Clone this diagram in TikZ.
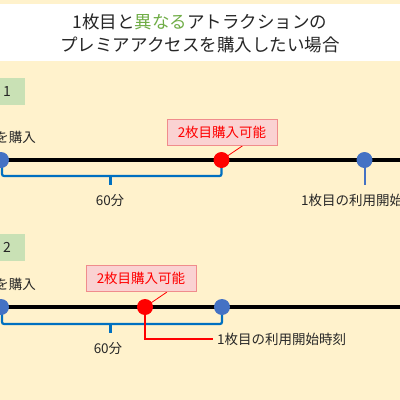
\documentclass[tikz,border=0pt]{standalone}
\usepackage{fontspec}
\setmainfont{Noto Sans CJK JP}
\definecolor{bgc}{HTML}{FFF2CC}
\definecolor{tgreen}{HTML}{70AD47}
\definecolor{casec}{HTML}{C9E1B5}
\definecolor{dotblue}{HTML}{4472C4}
\definecolor{brblue}{HTML}{0070C0}
\definecolor{pinkf}{HTML}{FAD2D2}
\definecolor{pinkd}{HTML}{F08C8C}
\definecolor{txt}{HTML}{262626}
\pgfdeclarelayer{back}
\pgfdeclarelayer{lines}
\pgfsetlayers{back,lines,main}
\tikzset{
  ttl/.style={font=\fontsize{17.5}{20}\selectfont, text=txt, inner sep=0},
  lbl/.style={font=\fontsize{13.5}{16}\selectfont, text=txt, inner sep=0},
  casebox/.style={fill=casec, draw=none},
  bdot/.style={circle, fill=dotblue, minimum size=16, inner sep=0},
  rdot/.style={circle, fill=red, minimum size=16, inner sep=0},
  timeline/.style={line width=3.5, black},
  bracket/.style={line width=2.2, brblue},
  bline/.style={line width=2, dotblue},
  rline/.style={line width=2, red},
  callbox/.style={fill=pinkf, draw=pinkd, line width=0.8, minimum width=110, minimum height=26, inner sep=0, text=red, font=\fontsize{13.5}{16}\selectfont},
  pointer/.style={red, line width=0.8}
}
\begin{document}
\begin{tikzpicture}[x=1pt,y=-1pt]
\useasboundingbox (0,0) rectangle (400,400);
\clip (0,0) rectangle (400,400);
\begin{pgfonlayer}{back}
\fill[bgc] (0,0) rectangle (400,400);
\fill[white] (0,4) rectangle (400,61);
\fill[casec] (-5,78) rectangle (25,105);
\fill[casec] (-5,234) rectangle (25,261);
\end{pgfonlayer}
\node[ttl] (t1) at (200,22) {1枚目と\textcolor{tgreen}{異なる}アトラクションの};
\node[ttl] (t2) at (200,45) {プレミアアクセスを購入したい場合};
% case 1
\node[lbl, font=\fontsize{14}{16}\selectfont] (k1) at (7,91.5) {1};
\node[lbl, anchor=east] (p1) at (36,137) {を購入};
\coordinate (l1s) at (0,160);
\coordinate (l1e) at (400,160);
\node[bdot] (a1) at (1,160) {};
\node[rdot] (r1) at (221.5,160) {};
\node[bdot] (b1) at (364.5,160) {};
\node[callbox] (c1) at (222,132) {2枚目購入可能};
\coordinate (tk1) at (110.5,176);
\coordinate (tk1e) at (110.5,185);
\coordinate (v1e) at (364.5,185);
\coordinate (pt1) at (243,145.5);
\node[lbl] (m1) at (110,201) {60分};
\node[lbl, anchor=west] (u1) at (301,200) {1枚目の利用開始時刻};
\begin{pgfonlayer}{lines}
\draw[timeline] (l1s) -- (l1e);
\draw[bracket, rounded corners=2] (2,160) |- (tk1) -| (221.5,160);
\draw[bracket] (tk1) -- (tk1e);
\draw[bline] (b1.center) -- (v1e);
\draw[pointer] (pt1) -- (r1.center);
\end{pgfonlayer}
% case 2
\node[lbl, font=\fontsize{14}{16}\selectfont] (k2) at (7,247.5) {2};
\node[lbl, anchor=east] (p2) at (36,284) {を購入};
\coordinate (l2s) at (0,307);
\coordinate (l2e) at (400,307);
\node[bdot] (a2) at (1,307) {};
\node[rdot] (r2) at (145,307) {};
\node[bdot] (b2) at (222,307) {};
\node[callbox] (c2) at (141,278.5) {2枚目購入可能};
\coordinate (tk2) at (110.5,324);
\coordinate (tk2e) at (110.5,333);
\coordinate (pt2) at (167,292);
\coordinate (rc2) at (145,339);
\coordinate (re2) at (213,339);
\node[lbl] (m2) at (108,349) {60分};
\node[lbl, anchor=west] (u2) at (217,339) {1枚目の利用開始時刻};
\begin{pgfonlayer}{lines}
\draw[timeline] (l2s) -- (l2e);
\draw[bracket, rounded corners=2] (2,307) |- (tk2) -| (222,307);
\draw[bracket] (tk2) -- (tk2e);
\draw[rline] (r2.center) -- (rc2) -- (re2);
\draw[pointer] (pt2) -- (r2.center);
\end{pgfonlayer}
\end{tikzpicture}
\end{document}
